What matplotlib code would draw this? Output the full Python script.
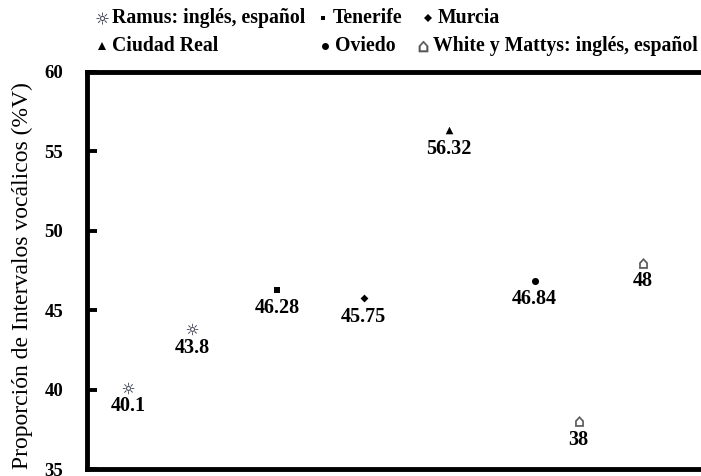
import matplotlib
matplotlib.use('Agg')
import matplotlib.pyplot as plt
from matplotlib.lines import Line2D

# Data
series = ['Ramus: inglés, español', 'Tenerife', 'Murcia', 'Ciudad Real',
          'Oviedo', 'White y Mattys: inglés, español']
ramus_x = [1.27, 2.01]
ramus_y = [40.1, 43.8]
tenerife_x = [3.0]
tenerife_y = [46.28]
murcia_x = [4.01]
murcia_y = [45.75]
creal_x = [5.0]
creal_y = [56.32]
oviedo_x = [6.0]
oviedo_y = [46.84]
white_x = [6.51, 7.26]
white_y = [38.0, 48.0]
yticks = [35, 40, 45, 50, 55, 60]

SERIF = ['Liberation Serif', 'DejaVu Serif']
SUN = '$\u263c$'
HOUSE = '$\u2302$'

fig = plt.figure(figsize=(7.01, 4.76), dpi=100)
ax = fig.add_axes([87 / 701, (476 - 469) / 476, 660 / 701, 397 / 476])

styles = [
    (ramus_x, ramus_y, dict(marker=SUN, color='#2b3045', s=65, linewidths=0.1)),
    (tenerife_x, tenerife_y, dict(marker='s', color='black', s=16, linewidths=0)),
    (murcia_x, murcia_y, dict(marker='D', color='black', s=16, linewidths=0)),
    (creal_x, creal_y, dict(marker='^', color='black', s=30, linewidths=0)),
    (oviedo_x, oviedo_y, dict(marker='o', color='black', s=26, linewidths=0)),
    (white_x, white_y, dict(marker=HOUSE, color='#555555', s=55, linewidths=0.3)),
]
for xs, ys, kw in styles:
    ax.scatter(xs, ys, zorder=3, **kw)
    for x, y in zip(xs, ys):
        ax.annotate(f'{y:g}', (x, y), xytext=(0, -6), textcoords='offset points',
                    ha='center', va='top', fontsize=14.5, fontweight='bold',
                    family=SERIF)

ax.set_xlim(0.79, 8.47)
ax.set_ylim(35, 60)
ax.set_yticks(yticks)
ax.set_yticklabels([str(t) for t in yticks], fontsize=13.5, fontweight='bold',
                   family=SERIF)
ax.tick_params(axis='y', direction='in', length=7, width=2.8, pad=17)
ax.tick_params(axis='x', bottom=False, labelbottom=False)
for sp in ax.spines.values():
    sp.set_linewidth(3.5)
ax.set_ylabel('Proporción de Intervalos vocálicos (%V)', fontsize=17,
              family=SERIF)
ax.yaxis.set_label_coords(-0.082, 0.487)

# Legend drawn in pixel coordinates
lg = fig.add_axes([0, 0, 1, 1], facecolor='none')
lg.set_xlim(0, 701)
lg.set_ylim(476, 0)
lg.axis('off')
entries = [
    (102, 18, SUN, 8.5, '#2b3045', 0.1, series[0]),
    (323, 18, 's', 3.5, 'black', 0, series[1]),
    (428, 18, 'D', 4, 'black', 0, series[2]),
    (102, 46, '^', 5.5, 'black', 0, series[3]),
    (325, 46, 'o', 5, 'black', 0, series[4]),
    (423, 46, HOUSE, 8, '#555555', 0.3, series[5]),
]
for x, y, m, ms, c, mew, label in entries:
    lg.add_line(Line2D([x], [y], marker=m, markersize=ms, color=c,
                       linestyle='none', markeredgewidth=mew))
    lg.text(x + 10, y, label, ha='left', va='center', fontsize=14.2,
            fontweight='bold', family=SERIF)

fig.savefig('out.png', dpi=100)
